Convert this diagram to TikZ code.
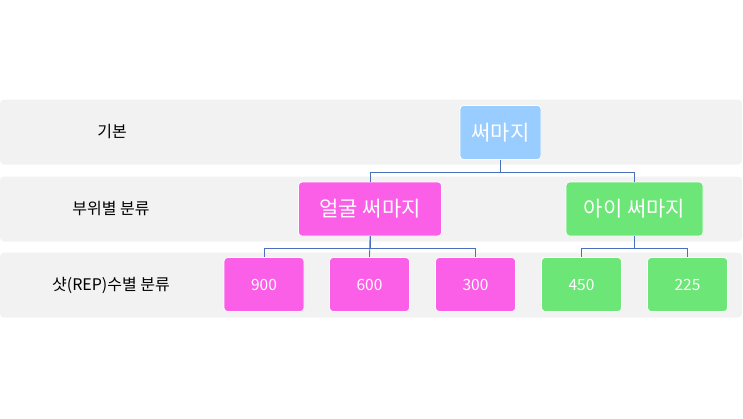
\documentclass[tikz,border=0pt]{standalone}
\usepackage{fontspec}
\setmainfont{Noto Sans CJK KR}
\definecolor{bandgray}{HTML}{F2F2F2}
\definecolor{topblue}{HTML}{99CCFF}
\definecolor{pinkc}{HTML}{FB5FE8}
\definecolor{greenc}{HTML}{6BE677}
\definecolor{linkc}{HTML}{4A6FC0}
\begin{document}
\begin{tikzpicture}[x=1pt,y=-1pt,
  band/.style={fill=bandgray,draw=none,rounded corners=4pt,minimum width=742pt,minimum height=65pt,inner sep=0pt},
  rowlabel/.style={font=\fontsize{16}{18}\selectfont,text=black,inner sep=0pt},
  box/.style={draw=white,line width=0.8pt,rounded corners=3.5pt,inner sep=0pt,text=white},
  bignode/.style={box,minimum height=54pt,font=\fontsize{21}{24}\selectfont},
  smallnode/.style={box,minimum width=80pt,minimum height=54pt,font=\fontsize{15.5}{18}\selectfont},
  conn/.style={draw=linkc,line width=0.8pt}]
\useasboundingbox (0,0) rectangle (743,418);
\node[band] (b1) at (371,132) {};
\node[band] (b2) at (371,209) {};
\node[band] (b3) at (371,285) {};
\node[rowlabel] (l1) at (112,132) {기본};
\node[rowlabel] (l2) at (111,209) {부위별 분류};
\node[rowlabel] (l3) at (111,285) {샷(REP)수별 분류};
\node[bignode,fill=topblue,minimum width=81pt] (top) at (500.5,132.5) {써마지};
\node[bignode,fill=pinkc,minimum width=143pt] (face) at (370,209) {얼굴 써마지};
\node[bignode,fill=greenc,minimum width=137pt] (eye) at (634.5,209) {아이 써마지};
\node[smallnode,fill=pinkc] (n900) at (264,284.5) {900};
\node[smallnode,fill=pinkc] (n600) at (369.5,284.5) {600};
\node[smallnode,fill=pinkc] (n300) at (475.5,284.5) {300};
\node[smallnode,fill=greenc] (n450) at (581.5,284.5) {450};
\node[smallnode,fill=greenc] (n225) at (687.5,284.5) {225};
\draw[conn] (top.south) -- ++(0,12) -| (face.north);
\draw[conn] (top.south) -- ++(0,12) -| (eye.north);
\draw[conn] (face.south) -- ++(0,11.5) -| (n900.north);
\draw[conn] (face.south) -- (n600.north);
\draw[conn] (face.south) -- ++(0,11.5) -| (n300.north);
\draw[conn] (eye.south) -- ++(0,11.5) -| (n450.north);
\draw[conn] (eye.south) -- ++(0,11.5) -| (n225.north);
\end{tikzpicture}
\end{document}
